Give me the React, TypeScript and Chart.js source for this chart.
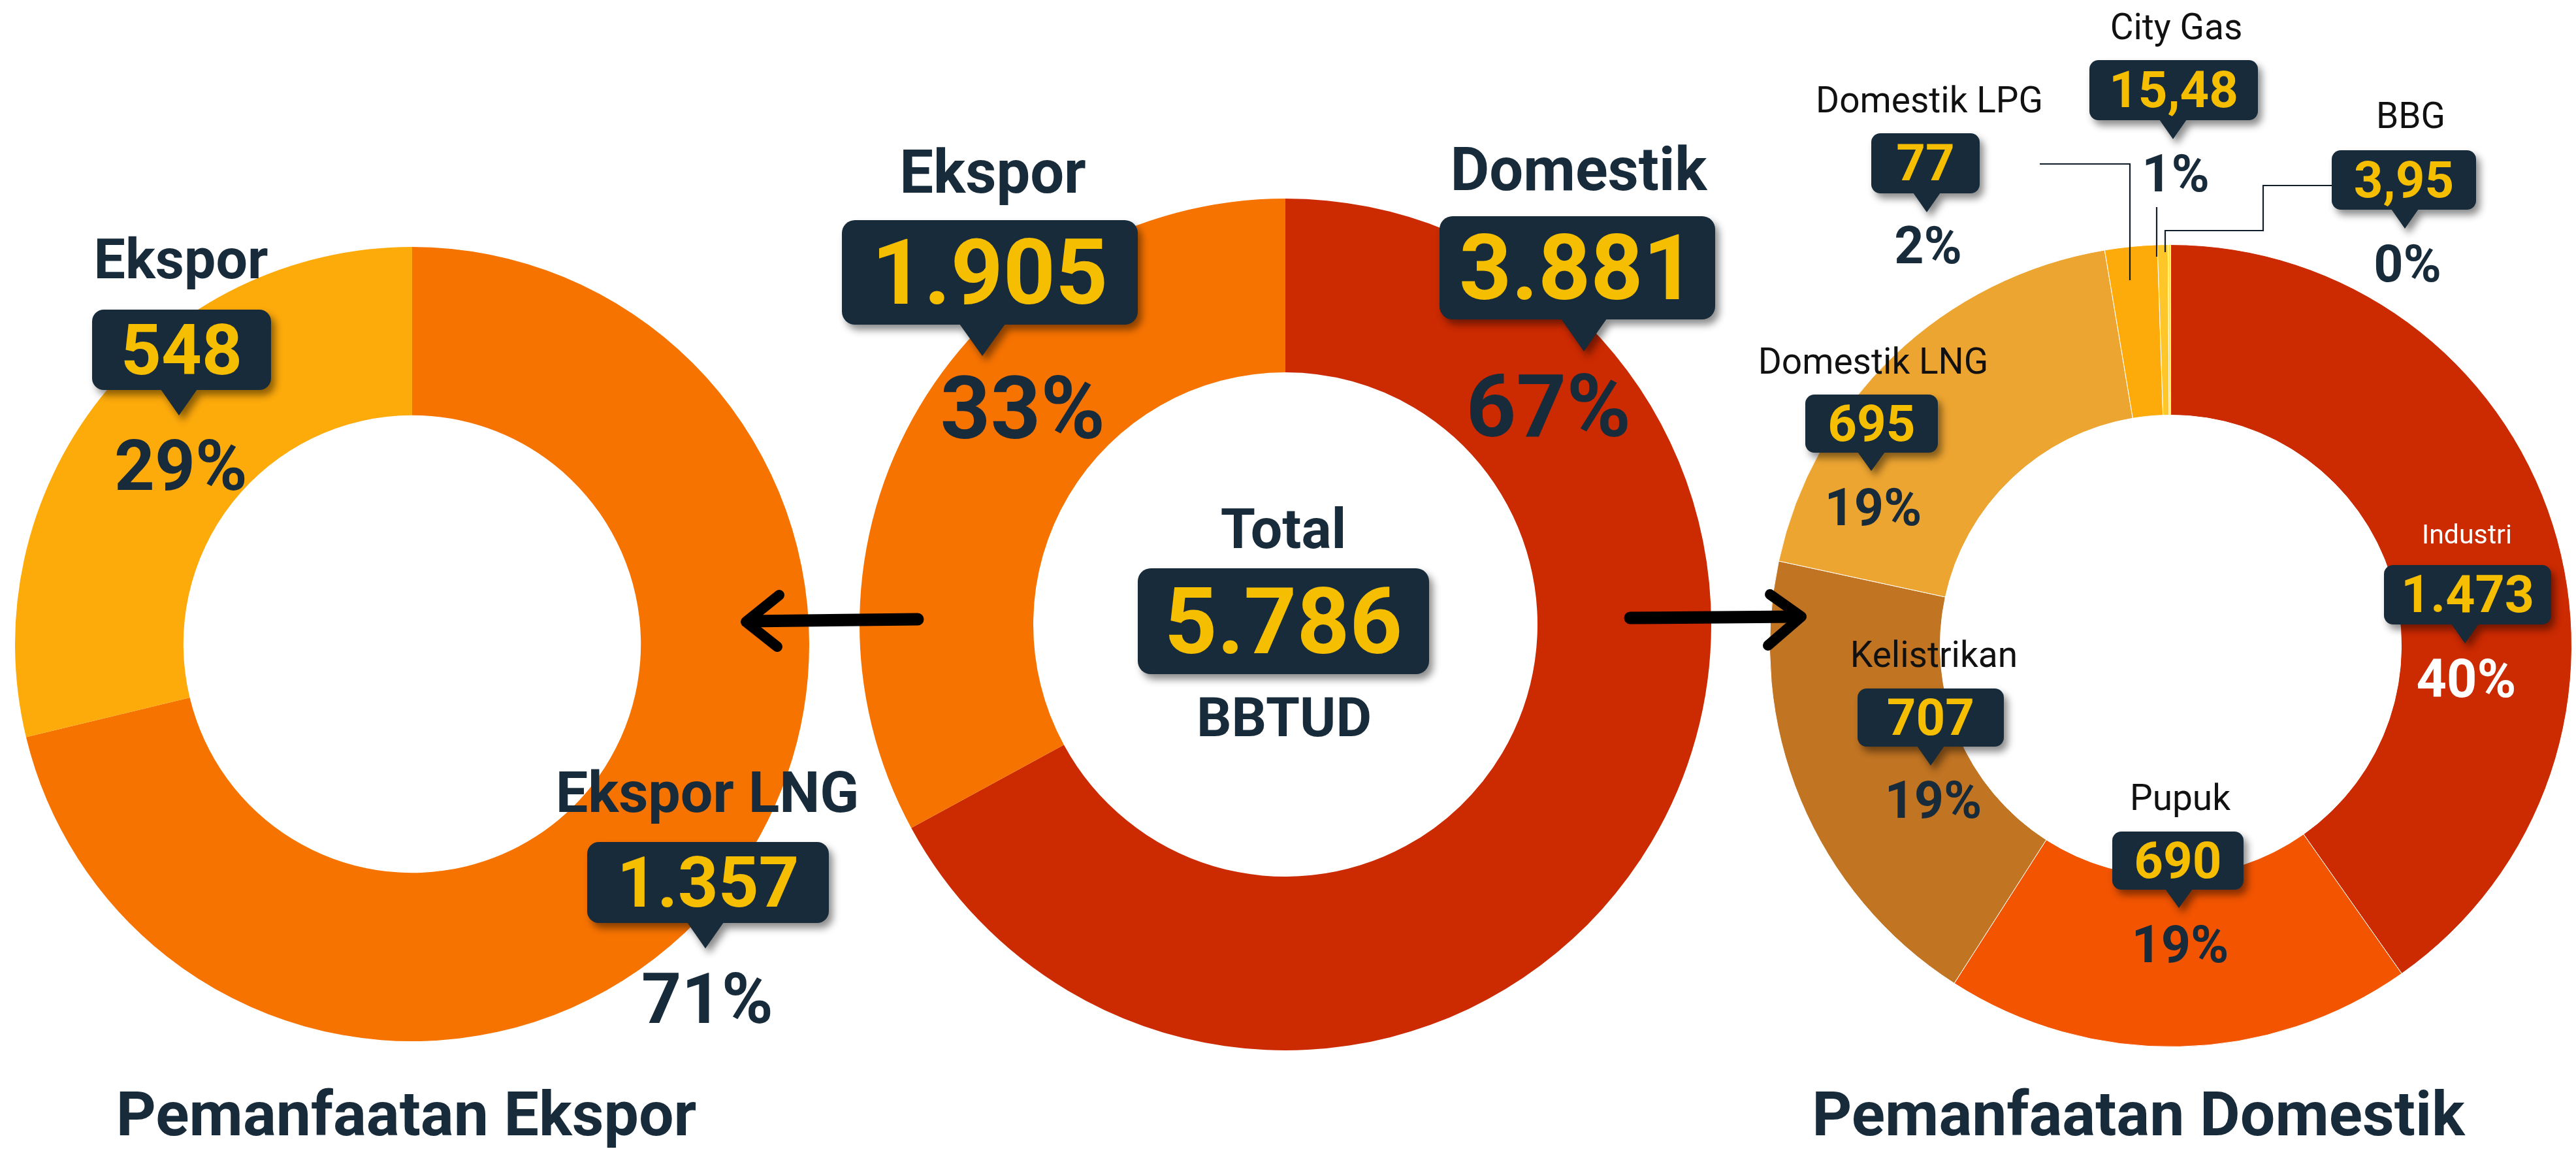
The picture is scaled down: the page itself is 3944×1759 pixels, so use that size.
import React, { useEffect, useRef } from 'react';
import { Chart, registerables } from 'chart.js';

Chart.register(...registerables);

// ---------- DATA ----------
const centerLabels = ['Domestik', 'Ekspor'];
const centerValues = [3881, 1905];
const centerPct = ['67%', '33%'];
const centerColors = ['#CC2A00', '#F77300'];

const exportLabels = ['Ekspor LNG', 'Ekspor'];
const exportValues = [1357, 548];
const exportPct = ['71%', '29%'];
const exportColors = ['#F77300', '#FDAA0B'];

const domesticLabels = ['Industri', 'Pupuk', 'Kelistrikan', 'Domestik LNG', 'Domestik LPG', 'City Gas', 'BBG'];
const domesticValues = [1473, 690, 707, 695, 77, 15.48, 3.95];
const domesticPct = ['40%', '19%', '19%', '19%', '2%', '1%', '0%'];
const domesticColors = ['#CC2A00', '#F25400', '#C17422', '#EDA531', '#FDAA0B', '#FFC629', '#FFE14A'];

const totalLabel = 'Total';
const unitLabel = 'BBTUD';
const titleExport = 'Pemanfaatan Ekspor';
const titleDomestic = 'Pemanfaatan Domestik';

// ---------- STYLE ----------
const NAVY = '#182B3A';
const BOX = '#172B3A';
const YEL = '#F5BE00';
const FONT = "Roboto, 'Noto Sans', sans-serif";

function fmt(v: number): string {
  const neg = v < 0;
  const a = Math.abs(v);
  const intPart = Math.floor(a);
  const dec = Math.round((a - intPart) * 100);
  const s = String(intPart).replace(/\B(?=(\d{3})+(?!\d))/g, '.');
  return (neg ? '-' : '') + s + (dec ? ',' + String(dec).padStart(2, '0') : '');
}

type TProps = { x: number; base: number; size: number; weight?: number; color?: string; children: React.ReactNode };
function T({ x, base, size, weight = 700, color = NAVY, children }: TProps) {
  return (
    <div
      style={{
        position: 'absolute',
        left: x - 1000,
        width: 2000,
        top: base - 0.842 * size,
        height: size,
        fontSize: size,
        lineHeight: `${size}px`,
        textAlign: 'center',
        fontWeight: weight,
        color,
        fontFamily: FONT,
        whiteSpace: 'nowrap',
      }}
    >
      {children}
    </div>
  );
}

type BoxL = { l: number; t: number; w: number; h: number; tipX?: number; tipY?: number; hw?: number; size: number; r: number };
function Callout({ b, text }: { b: BoxL; text: string }) {
  const tipH = b.tipY !== undefined ? b.tipY - (b.t + b.h) : 0;
  const hw = b.hw ?? 22;
  return (
    <div
      style={{
        position: 'absolute',
        left: b.l,
        top: b.t,
        width: b.w,
        height: b.h + tipH,
        filter: 'drop-shadow(6px 8px 6px rgba(0,0,0,0.45))',
      }}
    >
      <div style={{ position: 'absolute', left: 0, top: 0, width: b.w, height: b.h, background: BOX, borderRadius: b.r }} />
      {b.tipX !== undefined && (
        <div
          style={{
            position: 'absolute',
            left: b.tipX - b.l - hw,
            top: b.h - 1,
            width: 0,
            height: 0,
            borderLeft: `${hw}px solid transparent`,
            borderRight: `${hw}px solid transparent`,
            borderTop: `${tipH + 1}px solid ${BOX}`,
          }}
        />
      )}
      <div
        style={{
          position: 'absolute',
          left: 0,
          top: 0,
          width: b.w,
          height: b.h,
          display: 'flex',
          alignItems: 'center',
          justifyContent: 'center',
          fontSize: b.size,
          lineHeight: 1,
          fontWeight: 700,
          color: YEL,
          fontFamily: FONT,
          whiteSpace: 'nowrap',
        }}
      >
        {text}
      </div>
    </div>
  );
}

type Txt = { x: number; base: number; size: number; weight?: number; color?: string };
type Group = { label: Txt; box: BoxL; pct: Txt };

// ---------- LAYOUT ----------
const exportLayout: Group[] = [
  {
    label: { x: 1083, base: 1243, size: 88 },
    box: { l: 899, t: 1289, w: 370, h: 124, tipX: 1080, tipY: 1452, hw: 28, size: 108, r: 18 },
    pct: { x: 1083, base: 1566, size: 107 },
  },
  {
    label: { x: 277, base: 426, size: 86 },
    box: { l: 141, t: 474, w: 274, h: 123, tipX: 274, tipY: 636, hw: 28, size: 108, r: 18 },
    pct: { x: 277, base: 750, size: 108 },
  },
];

const centerLayout: Group[] = [
  {
    label: { x: 2417, base: 291, size: 92 },
    box: { l: 2204, t: 331, w: 422, h: 158, tipX: 2425, tipY: 538, hw: 35, size: 140, r: 20 },
    pct: { x: 2371, base: 669, size: 134 },
  },
  {
    label: { x: 1520, base: 295, size: 92 },
    box: { l: 1289, t: 337, w: 453, h: 160, tipX: 1504, tipY: 545, hw: 35, size: 140, r: 20 },
    pct: { x: 1566, base: 672, size: 134 },
  },
];

const R_LBL = { size: 55, weight: 400, color: '#111111' };
const domesticLayout: Group[] = [
  {
    label: { x: 3777, base: 833, size: 41, weight: 400, color: '#FFFFFF' },
    box: { l: 3650, t: 865, w: 256, h: 91, tipX: 3774, tipY: 985, hw: 21, size: 79, r: 14 },
    pct: { x: 3776, base: 1067, size: 81, color: '#FFFFFF' },
  },
  {
    label: { x: 3338, base: 1240, ...R_LBL },
    box: { l: 3234, t: 1273, w: 201, h: 89, tipX: 3336, tipY: 1390, hw: 21, size: 78, r: 14 },
    pct: { x: 3338, base: 1474, size: 79 },
  },
  {
    label: { x: 2961, base: 1021, ...R_LBL },
    box: { l: 2844, t: 1054, w: 224, h: 89, tipX: 2956, tipY: 1172, hw: 21, size: 78, r: 14 },
    pct: { x: 2960, base: 1253, size: 79 },
  },
  {
    label: { x: 2868, base: 572, ...R_LBL },
    box: { l: 2764, t: 604, w: 203, h: 89, tipX: 2865, tipY: 721, hw: 21, size: 78, r: 14 },
    pct: { x: 2868, base: 805, size: 79 },
  },
  {
    label: { x: 2954, base: 172, ...R_LBL },
    box: { l: 2865, t: 204, w: 166, h: 92, tipX: 2950, tipY: 325, hw: 21, size: 78, r: 14 },
    pct: { x: 2952, base: 404, size: 79 },
  },
  {
    label: { x: 3332, base: 60, ...R_LBL },
    box: { l: 3199, t: 92, w: 258, h: 92, tipX: 3327, tipY: 213, hw: 21, size: 78, r: 14 },
    pct: { x: 3331, base: 294, size: 79 },
  },
  {
    label: { x: 3691, base: 196, ...R_LBL },
    box: { l: 3570, t: 230, w: 221, h: 91, tipX: 3682, tipY: 350, hw: 21, size: 78, r: 14 },
    pct: { x: 3686, base: 432, size: 79 },
  },
];

// ---------- DONUT ----------
type DonutProps = {
  labels: string[];
  values: number[];
  colors: string[];
  cx: number;
  cy: number;
  R: number;
  cutout: string;
  borderWidth: number;
};
function Donut({ labels, values, colors, cx, cy, R, cutout, borderWidth }: DonutProps) {
  const ref = useRef<HTMLCanvasElement | null>(null);
  useEffect(() => {
    if (!ref.current) return;
    const chart = new Chart(ref.current, {
      type: 'doughnut',
      data: {
        labels,
        datasets: [
          {
            data: values,
            backgroundColor: colors,
            borderColor: '#FFFFFF',
            borderWidth,
            hoverOffset: 0,
          },
        ],
      },
      options: {
        responsive: false,
        animation: false,
        events: [],
        cutout,
        rotation: 0,
        layout: { padding: 0 },
        plugins: { legend: { display: false }, tooltip: { enabled: false } },
      },
    });
    return () => chart.destroy();
  }, []);
  const size = Math.round(2 * R + borderWidth);
  return (
    <canvas
      ref={ref}
      width={size}
      height={size}
      style={{ position: 'absolute', left: cx - size / 2, top: cy - size / 2, width: size, height: size, display: 'block' }}
    />
  );
}

function Groups({ layout, labels, values, pcts }: { layout: Group[]; labels: string[]; values: number[]; pcts: string[] }) {
  return (
    <>
      {layout.map((g, i) => (
        <React.Fragment key={i}>
          <T {...g.label}>{labels[i]}</T>
          <Callout b={g.box} text={fmt(values[i])} />
          <T {...g.pct}>{pcts[i]}</T>
        </React.Fragment>
      ))}
    </>
  );
}

export default function App() {
  useEffect(() => {
    document.body.style.margin = '0';
    document.body.style.background = '#FFFFFF';
  }, []);
  const total = centerValues.reduce((a, b) => a + b, 0);
  const LEAD = '#0F1E2A';
  return (
    <div style={{ position: 'absolute', left: 0, top: 0, width: 3944, height: 1759, background: '#FFFFFF', overflow: 'hidden', fontFamily: FONT }}>
      <Donut labels={exportLabels} values={exportValues} colors={exportColors} cx={631} cy={986} R={608} cutout="57.6%" borderWidth={0} />
      <Donut labels={centerLabels} values={centerValues} colors={centerColors} cx={1968} cy={956} R={652} cutout="59.2%" borderWidth={0} />
      <Donut labels={domesticLabels} values={domesticValues} colors={domesticColors} cx={3323} cy={988} R={614} cutout="57.5%" borderWidth={1} />

      <svg width={3944} height={1759} style={{ position: 'absolute', left: 0, top: 0 }}>
        {/* arrows */}
        <line x1={1405} y1={948} x2={1146} y2={951} stroke="#000" strokeWidth={19} strokeLinecap="round" />
        <polyline points="1193,911 1142,952 1190,990" fill="none" stroke="#000" strokeWidth={16} strokeLinecap="round" strokeLinejoin="round" />
        <line x1={2496} y1={946} x2={2752} y2={944} stroke="#000" strokeWidth={19} strokeLinecap="round" />
        <polyline points="2710,910 2758,944 2707,988" fill="none" stroke="#000" strokeWidth={16} strokeLinecap="round" strokeLinejoin="round" />
        {/* leader lines */}
        <polyline points="3123,251 3261,251 3261,429" fill="none" stroke={LEAD} strokeWidth={2.2} />
        <polyline points="3302,317 3302,393" fill="none" stroke={LEAD} strokeWidth={2.2} />
        <polyline points="3570,284 3465,284 3465,353 3315,353 3315,386" fill="none" stroke={LEAD} strokeWidth={2.2} />
      </svg>

      <Groups layout={exportLayout} labels={exportLabels} values={exportValues} pcts={exportPct} />
      <Groups layout={centerLayout} labels={centerLabels} values={centerValues} pcts={centerPct} />
      <Groups layout={domesticLayout} labels={domesticLabels} values={domesticValues} pcts={domesticPct} />

      <T x={1965} base={839} size={86}>{totalLabel}</T>
      <Callout b={{ l: 1742, t: 870, w: 446, h: 162, size: 141, r: 20 }} text={fmt(total)} />
      <T x={1966} base={1128} size={84}>{unitLabel}</T>

      <T x={622} base={1738} size={95}>{titleExport}</T>
      <T x={3274} base={1738} size={95}>{titleDomestic}</T>
    </div>
  );
}
